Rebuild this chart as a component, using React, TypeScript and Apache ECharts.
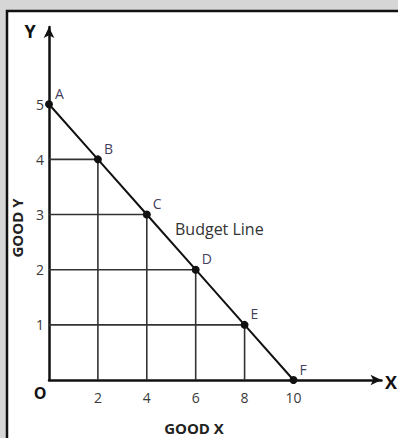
import React, { useEffect, useRef } from "react";
import * as echarts from "echarts";

const pointNames = ["A", "B", "C", "D", "E", "F"];
const goodX = [0, 2, 4, 6, 8, 10];
const goodY = [5, 4, 3, 2, 1, 0];
const xTickLabels = [2, 4, 6, 8, 10];
const yTickLabels = [1, 2, 3, 4, 5];

const FONT = "'Open Sans', 'Liberation Sans', sans-serif";

export default function App() {
  const ref = useRef<HTMLDivElement>(null);
  useEffect(() => {
    if (!ref.current) return;
    const chart = echarts.init(ref.current, null, { renderer: "svg" });
    const budgetData = goodX.map((x, i) => [x, goodY[i]]);
    const dropSeries = goodX
      .map((x, i) => ({ x, y: goodY[i] }))
      .filter((p) => p.x > 0 && p.y > 0)
      .map((p) => ({
        type: "line",
        data: [
          [0, p.y],
          [p.x, p.y],
          [p.x, 0],
        ],
        symbol: "none",
        lineStyle: { color: "#333", width: 1.6 },
        z: 1,
        silent: true,
      }));
    chart.setOption({
      animation: false,
      backgroundColor: "#d6d6d6",
      graphic: [
        {
          type: "rect",
          shape: { x: 7, y: 11, width: 420, height: 460 },
          style: { fill: "#ffffff", stroke: "#111", lineWidth: 2.5 },
          z: -10,
        },
        {
          type: "text",
          style: { x: 30, y: 31, text: "Y", font: `bold 18px ${FONT}`, fill: "#111", align: "center", verticalAlign: "middle" },
        },
        {
          type: "text",
          style: { x: 391, y: 382, text: "X", font: `bold 18px ${FONT}`, fill: "#111", align: "center", verticalAlign: "middle" },
        },
        {
          type: "text",
          style: { x: 40, y: 393, text: "O", font: `bold 16px ${FONT}`, fill: "#111", align: "center", verticalAlign: "middle" },
        },
        {
          type: "text",
          style: { x: 194, y: 428, text: "GOOD X", font: `bold 15px ${FONT}`, fill: "#222", align: "center", verticalAlign: "middle" },
        },
        {
          type: "text",
          x: 17,
          y: 228,
          rotation: Math.PI / 2,
          style: { x: 0, y: 0, text: "GOOD Y", font: `bold 15px ${FONT}`, fill: "#222", align: "center", verticalAlign: "middle" },
        },
        {
          type: "text",
          style: { x: 175, y: 229, text: "Budget Line", font: `16px ${FONT}`, fill: "#333", align: "left", verticalAlign: "middle" },
        },
      ],
      grid: { left: 49, top: 27, right: 16.5, bottom: 58 },
      xAxis: {
        type: "value",
        min: 0,
        max: 13.6,
        axisLine: { lineStyle: { color: "#111", width: 2.5 }, symbol: ["none", "arrow"], symbolSize: [8, 11] },
        axisTick: { show: false },
        splitLine: { show: false },
        axisLabel: { customValues: xTickLabels, color: "#3a3a3a", fontSize: 14, fontFamily: FONT, margin: 10 },
      },
      yAxis: {
        type: "value",
        min: 0,
        max: 6.4,
        axisLine: { lineStyle: { color: "#111", width: 2.5 }, symbol: ["none", "arrow"], symbolSize: [8, 11] },
        axisTick: { show: false },
        splitLine: { show: false },
        axisLabel: { customValues: yTickLabels, color: "#3a3a3a", fontSize: 14, fontFamily: FONT, margin: 5 },
      },
      series: [
        ...dropSeries,
        {
          type: "line",
          data: budgetData,
          symbol: "circle",
          symbolSize: 8,
          itemStyle: { color: "#111" },
          lineStyle: { color: "#111", width: 2 },
          z: 5,
          label: {
            show: true,
            position: "right",
            distance: 2,
            offset: [0, -11],
            formatter: (p: any) => pointNames[p.dataIndex],
            color: "#453f5e",
            fontSize: 14,
            fontFamily: FONT,
          },
        },
      ],
    });
    return () => chart.dispose();
  }, []);
  return (
    <div
      ref={ref}
      style={{ position: "fixed", left: 0, top: 0, width: 398, height: 438 }}
    />
  );
}
